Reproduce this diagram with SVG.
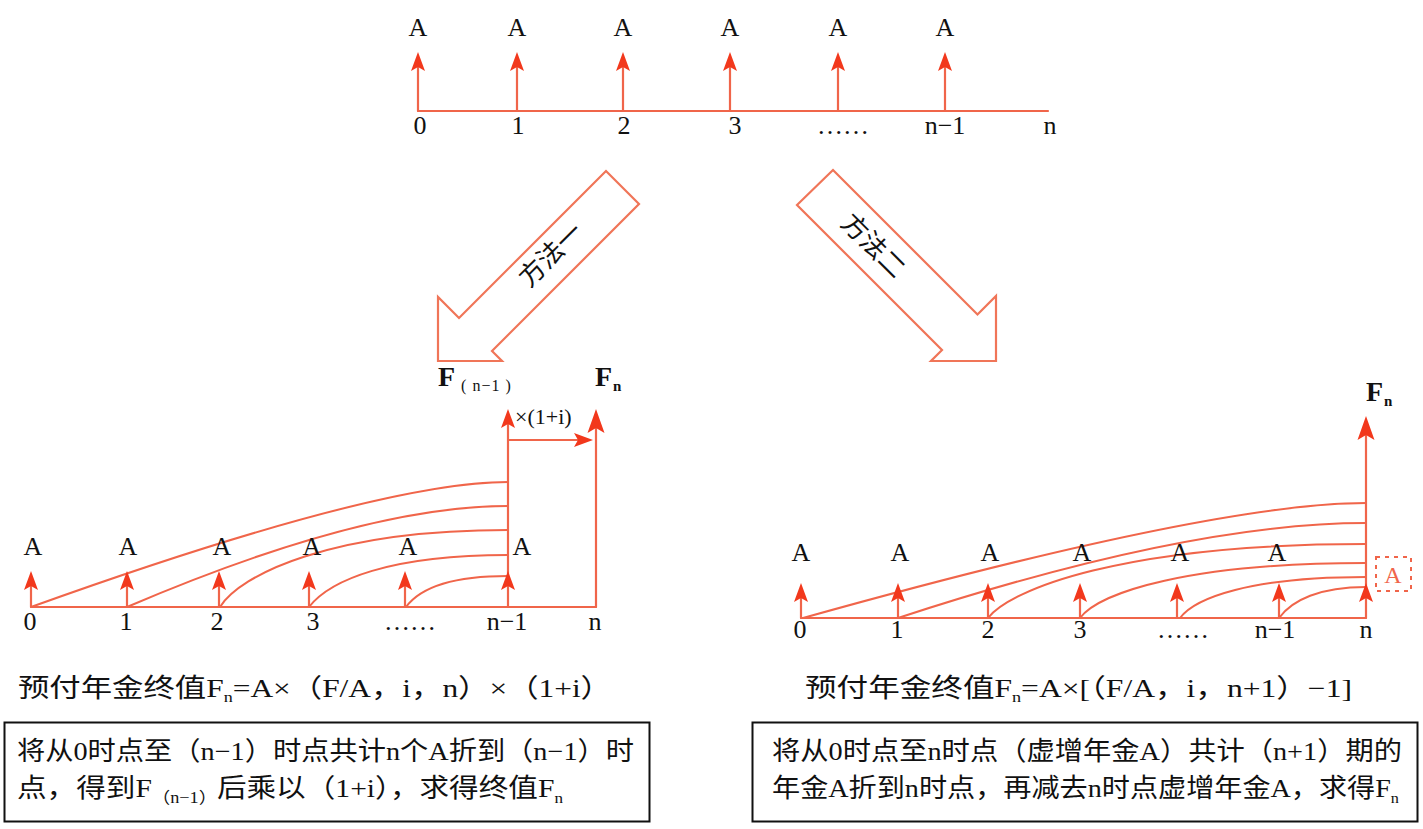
<svg xmlns="http://www.w3.org/2000/svg" xmlns:xlink="http://www.w3.org/1999/xlink" width="1423" height="829" viewBox="0 0 1423 829">
<style>
.ln{stroke:#F0654A;stroke-width:2.2;fill:none;stroke-linecap:round}
.cv{stroke:#F0654A;stroke-width:2;fill:none}
.big{stroke:#F07558;stroke-width:2.2;fill:#fff;stroke-linejoin:miter}
.hd{fill:#F2381C}
.t{font-family:"Liberation Serif","Noto Sans CJK SC",serif;fill:#111}
.lb{font-size:26px;text-anchor:middle}
.A{font-size:26px;text-anchor:middle}
.cj{font-family:"Liberation Serif","Noto Sans CJK SC",serif;fill:#111;font-size:26px}
.box{fill:none;stroke:#111;stroke-width:2}
</style>
<defs>
<path id="hd" d="M0,0 L7,19 L0,15 L-7,19 Z"/>
<path id="hdL" d="M0,0 L8.5,24 L0,19 L-8.5,24 Z"/>
</defs>
<rect width="1423" height="829" fill="#fff"/>

<!-- top timeline -->
<g id="top-timeline">
  <line class="ln" x1="418" y1="111" x2="1048" y2="111"/>
  <g class="ln">
    <line x1="418" y1="111" x2="418" y2="62"/>
    <line x1="517" y1="111" x2="517" y2="62"/>
    <line x1="623" y1="111" x2="623" y2="62"/>
    <line x1="730" y1="111" x2="730" y2="62"/>
    <line x1="838" y1="111" x2="838" y2="62"/>
    <line x1="945" y1="111" x2="945" y2="62"/>
  </g>
  <g class="hd">
    <use xlink:href="#hd" x="418" y="52"/>
    <use xlink:href="#hd" x="517" y="52"/>
    <use xlink:href="#hd" x="623" y="52"/>
    <use xlink:href="#hd" x="730" y="52"/>
    <use xlink:href="#hd" x="838" y="52"/>
    <use xlink:href="#hd" x="945" y="52"/>
  </g>
  <g class="t A">
    <text x="418" y="36">A</text><text x="517" y="36">A</text><text x="623" y="36">A</text>
    <text x="730" y="36">A</text><text x="838" y="36">A</text><text x="945" y="36">A</text>
  </g>
  <g class="t lb">
    <text x="420" y="134">0</text><text x="518" y="134">1</text><text x="624" y="134">2</text>
    <text x="735" y="134">3</text><text x="843" y="134">……</text><text x="945" y="134">n−1</text>
    <text x="1050" y="134">n</text>
  </g>
</g>

<!-- method arrows -->
<g id="method1">
  <polygon class="big" points="438,361 438,297 459,318 606,171 639,204 492,351 502,361"/>
  <text class="cj" x="551" y="255" font-size="28" text-anchor="middle" dominant-baseline="central" transform="rotate(-45 551 255)">方法一</text>
</g>
<g id="method2">
  <polygon class="big" points="797,205 833,170 977.5,314.5 996,296 996,361 931,361 942,350"/>
  <text class="cj" x="873" y="246" font-size="28" text-anchor="middle" dominant-baseline="central" transform="rotate(45 873 246)">方法二</text>
</g>

<!-- left diagram -->
<g id="left-diagram">
  <line class="ln" x1="31" y1="607" x2="596" y2="607"/>
  <line class="ln" x1="596" y1="607" x2="596" y2="420"/>
  <line class="ln" x1="508" y1="607" x2="508" y2="420"/>
  <line class="ln" x1="508" y1="440" x2="582" y2="440"/>
  <g class="ln">
    <line x1="31" y1="607" x2="31" y2="580"/>
    <line x1="127" y1="607" x2="127" y2="580"/>
    <line x1="219" y1="607" x2="219" y2="580"/>
    <line x1="309" y1="607" x2="309" y2="580"/>
    <line x1="405" y1="607" x2="405" y2="580"/>
  </g>
  <g class="cv">
    <path d="M31,607 Q379,482 508,482"/>
    <path d="M127,607 Q363,506 508,506"/>
    <path d="M220,607 C240,575 330,530 508,530"/>
    <path d="M309,607 C330,580 390,555 508,555"/>
    <path d="M406,607 C420,588 450,576 508,576"/>
  </g>
  <g class="hd">
    <use xlink:href="#hd" x="31" y="571"/>
    <use xlink:href="#hd" x="127" y="571"/>
    <use xlink:href="#hd" x="219" y="571"/>
    <use xlink:href="#hd" x="309" y="571"/>
    <use xlink:href="#hd" x="405" y="571"/>
    <use xlink:href="#hd" x="508" y="571"/>
    <use xlink:href="#hd" x="508" y="409"/>
    <use xlink:href="#hdL" x="596" y="409"/>
    <use xlink:href="#hd" transform="translate(593,440) rotate(90)"/>
  </g>
  <g class="t A">
    <text x="33" y="555">A</text><text x="128" y="555">A</text><text x="222" y="555">A</text>
    <text x="312" y="555">A</text><text x="408" y="555">A</text><text x="522" y="555">A</text>
  </g>
  <g class="t lb">
    <text x="30" y="630">0</text><text x="126" y="630">1</text><text x="217" y="630">2</text>
    <text x="313" y="630">3</text><text x="410" y="630">……</text><text x="507" y="630">n−1</text>
    <text x="595" y="630">n</text>
  </g>
  <text class="t" x="515" y="424" font-size="22">×(1+i)</text>
  <text class="t" x="438" y="386" font-size="28" font-weight="bold">F<tspan font-size="16" font-weight="normal" dx="6" dy="5" letter-spacing="1">( n−1 )</tspan></text>
  <text class="t" x="595" y="386" font-size="28" font-weight="bold">F<tspan font-size="15" dx="1" dy="5">n</tspan></text>
</g>

<!-- right diagram -->
<g id="right-diagram">
  <line class="ln" x1="801" y1="618" x2="1366" y2="618"/>
  <line class="ln" x1="1366" y1="618" x2="1366" y2="428"/>
  <g class="ln">
    <line x1="801" y1="618" x2="801" y2="592"/>
    <line x1="898" y1="618" x2="898" y2="592"/>
    <line x1="988" y1="618" x2="988" y2="592"/>
    <line x1="1080" y1="618" x2="1080" y2="592"/>
    <line x1="1177" y1="618" x2="1177" y2="592"/>
    <line x1="1279" y1="618" x2="1279" y2="592"/>
  </g>
  <g class="cv">
    <path d="M803,618 Q1214,503 1366,503"/>
    <path d="M898,618 Q1188,523 1366,523"/>
    <path d="M988,618 C1010,590 1120,544 1366,544"/>
    <path d="M1080,618 C1100,592 1190,563 1366,563"/>
    <path d="M1180,618 C1195,598 1250,577 1366,577"/>
    <path d="M1279,618 C1292,600 1320,587 1366,587"/>
  </g>
  <g class="hd">
    <use xlink:href="#hd" x="801" y="583"/>
    <use xlink:href="#hd" x="898" y="583"/>
    <use xlink:href="#hd" x="988" y="583"/>
    <use xlink:href="#hd" x="1080" y="583"/>
    <use xlink:href="#hd" x="1177" y="583"/>
    <use xlink:href="#hd" x="1279" y="583"/>
    <use xlink:href="#hd" x="1366" y="583"/>
    <use xlink:href="#hdL" x="1366" y="416"/>
  </g>
  <g class="t A">
    <text x="801" y="561">A</text><text x="900" y="561">A</text><text x="990" y="561">A</text>
    <text x="1082" y="561">A</text><text x="1180" y="561">A</text><text x="1277" y="561">A</text>
  </g>
  <g class="t lb">
    <text x="800" y="638">0</text><text x="897" y="638">1</text><text x="988" y="638">2</text>
    <text x="1080" y="638">3</text><text x="1183" y="638">……</text><text x="1275" y="638">n−1</text>
    <text x="1366" y="638">n</text>
  </g>
  <text class="t" x="1366" y="401" font-size="28" font-weight="bold">F<tspan font-size="15" dx="1" dy="5">n</tspan></text>
  <rect x="1376" y="557" width="35" height="34" fill="none" stroke="#F0654A" stroke-width="2" stroke-dasharray="4,5"/>
  <text x="1393" y="583" font-family="Liberation Serif,serif" font-size="24" fill="#F0654A" text-anchor="middle">A</text>
</g>

<!-- formulas -->
<g id="formula-left">
  <text class="cj" x="18" y="697" textLength="594" lengthAdjust="spacingAndGlyphs">预付年金终值F<tspan font-size="15" dy="5">n</tspan><tspan dy="-5">=A×（F/A，i，n）×（1+i）</tspan></text>
</g>
<g id="formula-right">
  <text class="cj" x="805" y="697" textLength="547" lengthAdjust="spacingAndGlyphs">预付年金终值F<tspan font-size="15" dy="5">n</tspan><tspan dy="-5">=A×[（F/A，i，n+1）−1]</tspan></text>
</g>

<!-- explanation boxes -->
<g id="box-left">
  <rect class="box" x="4.5" y="722.5" width="645" height="99"/>
  <text class="cj" x="17" y="760" textLength="617" lengthAdjust="spacingAndGlyphs">将从0时点至（n−1）时点共计n个A折到（n−1）时</text>
  <text class="cj" x="17" y="797" textLength="546" lengthAdjust="spacingAndGlyphs">点，得到F<tspan font-size="16" dy="6">（n−1）</tspan><tspan dy="-6">后乘以（1+i），求得终值F</tspan><tspan font-size="15" dy="6">n</tspan></text>
</g>
<g id="box-right">
  <rect class="box" x="752.5" y="722.5" width="665" height="99"/>
  <text class="cj" x="772" y="760" textLength="630" lengthAdjust="spacingAndGlyphs">将从0时点至n时点（虚增年金A）共计（n+1）期的</text>
  <text class="cj" x="772" y="797" textLength="627" lengthAdjust="spacingAndGlyphs">年金A折到n时点，再减去n时点虚增年金A，求得F<tspan font-size="15" dy="6">n</tspan></text>
</g>
</svg>
